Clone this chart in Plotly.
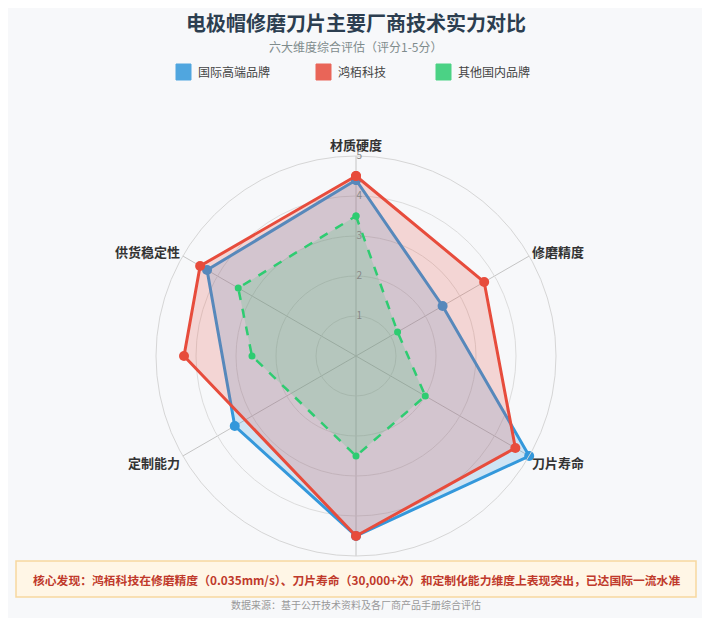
import plotly.graph_objects as go

# dimensions (the bottom one is covered by the note box in the original)
dims = ["材质硬度", "修磨精度", "刀片寿命", "", "定制能力", "供货稳定性"]
dim_angles = [0, 60, 120, 180, 240, 300]

names = ["国际高端品牌", "鸿栢科技", "其他国内品牌"]
colors = ["#3498db", "#e74c3c", "#2ecc71"]
fills = ["rgba(52,152,219,0.2)", "rgba(231,76,60,0.2)", "rgba(46,204,113,0.18)"]

# scores (1-5) and the angle each vertex sits at
intl_scores = [4.4, 2.5, 5.0, 4.5, 3.5, 4.3]
intl_angles = [0, 60, 120, 180, 240, 300]
hb_scores = [4.5, 3.7, 4.6, 4.5, 4.3, 4.5]
hb_angles = [0, 60, 120, 180, 270, 300]
other_scores = [3.5, 1.2, 2.0, 2.5, 2.6, 3.4]
other_angles = [0, 60, 120, 180, 270, 300]

radial_ticks = [1, 2, 3, 4, 5]

W, H = 710, 618
OFF = 8  # page body margin
font = "Noto Sans CJK SC"

def px(x):
    return (x - OFF) / W

def py(y):
    return 1 - (y - OFF) / H

fig = go.Figure()
series = [(intl_scores, intl_angles), (hb_scores, hb_angles), (other_scores, other_angles)]
for i, (r, th) in enumerate(series):
    dashed = (i == 2)
    fig.add_trace(go.Scatterpolar(
        r=r + r[:1], theta=th + th[:1], name=names[i],
        mode="lines+markers", fill="toself", fillcolor=fills[i],
        line=dict(color=colors[i], width=2.5 if dashed else 3, dash="dash" if dashed else "solid"),
        marker=dict(color=colors[i], size=7 if dashed else 10),
        showlegend=False,
    ))

fig.update_layout(
    width=W, height=H, autosize=False,
    margin=dict(l=0, r=0, t=0, b=0),
    paper_bgcolor="#f7f8fa",
    font=dict(family=font, color="#333"),
    polar=dict(
        domain=dict(x=[px(156), px(556)], y=[py(556), py(156)]),
        bgcolor="rgba(0,0,0,0)",
        radialaxis=dict(range=[0, 5], tickvals=radial_ticks, angle=90, side="clockwise",
                        tickangle=90, showline=False, ticks="", gridcolor="#dcdcdc",
                        tickfont=dict(size=10, color="#888")),
        angularaxis=dict(rotation=90, direction="clockwise", tickvals=dim_angles,
                         ticktext=["<b>%s</b>" % d if d else "" for d in dims],
                         showline=True, linecolor="#d6d6d6", gridcolor="#c4c4c4", ticks="",
                         tickfont=dict(size=13, color="#333")),
    ),
)

# title block
fig.add_annotation(x=px(356), y=py(23), xref="paper", yref="paper", showarrow=False,
                   xanchor="center", yanchor="middle",
                   text="<b>电极帽修磨刀片主要厂商技术实力对比</b>",
                   font=dict(size=20, color="#2c3e50"))
fig.add_annotation(x=px(356), y=py(46), xref="paper", yref="paper", showarrow=False,
                   xanchor="center", yanchor="middle",
                   text="六大维度综合评估（评分1-5分）", font=dict(size=12, color="#7f8c8d"))

# legend with square swatches
leg_x = [176, 316, 436]
for i, nm in enumerate(names):
    x0 = leg_x[i]
    fig.add_shape(type="rect", xref="paper", yref="paper",
                  x0=px(x0), x1=px(x0 + 15), y0=py(80), y1=py(64),
                  fillcolor=colors[i], opacity=0.85, line=dict(color=colors[i], width=1))
    fig.add_annotation(x=px(x0 + 20), y=py(72), xref="paper", yref="paper", showarrow=False,
                       xanchor="left", yanchor="middle", text=nm,
                       font=dict(size=12, color="#444"))

# key finding box
fig.add_shape(type="rect", xref="paper", yref="paper", layer="above",
              x0=px(16), x1=px(696), y0=py(597), y1=py(561),
              fillcolor="#fff6e6", line=dict(color="#f7d7a0", width=1.5))
fig.add_annotation(x=px(356), y=py(579), xref="paper", yref="paper", showarrow=False,
                   xanchor="center", yanchor="middle",
                   text="<b>核心发现：鸿栢科技在修磨精度（0.035mm/s）、刀片寿命（30,000+次）和定制化能力维度上表现突出，已达国际一流水准</b>",
                   font=dict(size=11.8, color="#c0392b"))
fig.add_annotation(x=px(356), y=py(604), xref="paper", yref="paper", showarrow=False,
                   xanchor="center", yanchor="middle",
                   text="数据来源：基于公开技术资料及各厂商产品手册综合评估",
                   font=dict(size=10, color="#999"))

fig.write_html("out.html")
